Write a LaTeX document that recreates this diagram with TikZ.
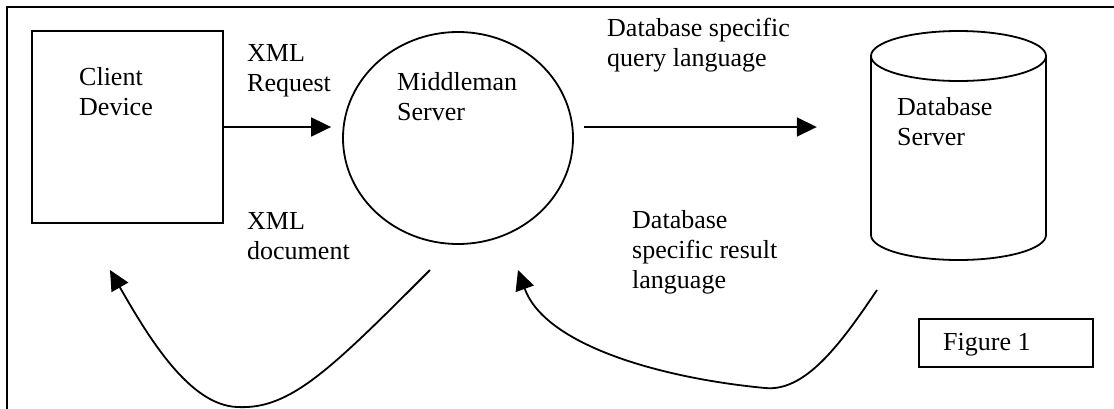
\documentclass[tikz,border=0pt]{standalone}
\usepackage{fontspec}
\setmainfont{Liberation Serif}
\usetikzlibrary{arrows.meta,shapes.geometric}
\begin{document}
\begin{tikzpicture}[x=1pt,y=-1pt,
  lw/.style={line width=1.8pt},
  box/.style={draw,lw,rectangle,inner sep=0pt},
  lbl/.style={anchor=base west,align=left,inner sep=0pt,font=\fontsize{26}{30}\selectfont},
  arr/.style={lw,-{Triangle[length=20pt,width=19pt]}},
]
\useasboundingbox (0,0) rectangle (1114,408);
\clip (0,0) rectangle (1114,408);
\draw[line width=2.2pt] (7,7) rectangle (1130,430);

\node[box,minimum width=191pt,minimum height=192pt] (client) at (127.5,127) {};
\node[lbl] (clientt) at (79,115) {Client\\Device};

\node[draw,lw,ellipse,minimum width=230pt,minimum height=212pt,inner sep=0pt] (mid) at (458,138) {};
\node[lbl] (midt) at (397,120) {Middleman\\Server};

\node[minimum width=175pt,minimum height=229pt,inner sep=0pt] (db) at (958.5,145.5) {};
\draw[lw] (871,56) -- (871,235) arc[start angle=180,end angle=360,x radius=87.5pt,y radius=25pt]
  -- (1046,56) arc[start angle=0,end angle=180,x radius=87.5pt,y radius=25pt] -- cycle;
\draw[lw] (871,56) arc[start angle=180,end angle=360,x radius=87.5pt,y radius=25pt];
\node[lbl] (dbt) at (897,145) {Database\\Server};

\node[box,minimum width=174pt,minimum height=48pt] (fig) at (1006,343) {};
\node[lbl] (figt) at (943,350) {Figure 1};

\node[lbl] (xmlreq) at (247,91) {XML\\Request};
\node[lbl] (xmldoc) at (247,259) {XML\\document};
\node[lbl] (dbq) at (607,66) {Database specific\\query language};
\node[lbl] (dbr) at (632,288) {Database\\specific result\\language};

\draw[arr,shorten >=11pt] (client.east) -- (client.east -| mid.west);
\draw[arr,shorten <=10pt,shorten >=54pt] (mid.east |- client.east) -- (db.west |- client.east);

\coordinate (r0) at (877,290);
\coordinate (r1) at (518,270);
\draw[arr] (r0) .. controls (840,345) and (805,392) .. (765,388) .. controls (660,378) and (545,345) .. (r1);

\coordinate (l0) at (430,270);
\coordinate (l1) at (110,270);
\draw[arr] (l0) .. controls (330,370) and (290,410) .. (237,407) .. controls (190,405) and (150,340) .. (l1);
\end{tikzpicture}
\end{document}
